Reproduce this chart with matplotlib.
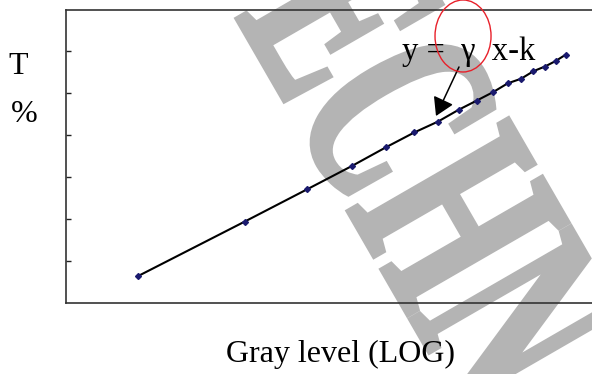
import matplotlib
matplotlib.use("Agg")
import matplotlib.pyplot as plt
from matplotlib.patches import Ellipse, PathPatch
from matplotlib.textpath import TextPath
from matplotlib.font_manager import FontProperties
from matplotlib.transforms import Affine2D

# data
gray_level = [1, 2, 3, 4, 5, 6, 7, 8, 9, 10, 11, 12, 13, 14, 15, 16]
t_percent = [6.4, 19.4, 27.1, 32.6, 37.1, 40.6, 43.2, 46.0, 48.2, 50.2,
             52.3, 53.4, 55.2, 56.3, 57.6, 59.1]
y_ticks = [10, 20, 30, 40, 50, 60]
equation = "y =  \u03b3  x-k"
x_label = "Gray level (LOG)"
y_label_top = "T"
y_label_bottom = "%"
watermark = "ECHN"

W, H, DPI = 592, 374, 100
fig = plt.figure(figsize=(W / DPI, H / DPI), dpi=DPI)
serif = ["Liberation Serif", "DejaVu Serif"]

# condensed, rotated grey watermark behind everything
wm_path = TextPath((0, 0), watermark, size=160,
                   prop=FontProperties(family="Liberation Serif", weight="bold"))
wm_tr = Affine2D().scale(1.0, 1.76).rotate_deg(-60).translate(236, H - 16.5)
wm = PathPatch(wm_path, transform=wm_tr, facecolor="#b4b4b4",
               edgecolor="#b4b4b4", lw=4, joinstyle="miter", zorder=-5)
fig.add_artist(wm)

ax = fig.add_axes([66 / W, 1 - 303 / H, 526 / W, 293 / H])
ax.patch.set_visible(False)
ax.plot(gray_level, t_percent, color="black", lw=1.5, marker="D", markersize=3,
        markerfacecolor="#1a1a6e", markeredgecolor="#1a1a6e", zorder=3)
ax.set_xscale("log")
ax.set_xlim(0.627, 19.0)
ax.set_ylim(0, 69.76)
ax.set_yticks(y_ticks)
ax.set_yticklabels([])
ax.tick_params(axis="y", direction="in", length=3.5, width=1, color="#222222")
ax.set_xticks([])
ax.xaxis.set_minor_locator(matplotlib.ticker.NullLocator())
ax.spines["right"].set_visible(False)
for s in ["left", "top", "bottom"]:
    ax.spines[s].set_color("#333333")
    ax.spines[s].set_linewidth(1.2)

ax.text(0.639, 0.829, equation, transform=ax.transAxes, family=serif,
        fontsize=23.5, ha="left", va="baseline", zorder=4)
ax.annotate("", xy=(0.7034, 0.6382), xycoords="axes fraction",
            xytext=(0.7471, 0.8055), textcoords="axes fraction",
            arrowprops=dict(arrowstyle="-|>,head_length=0.55,head_width=0.33",
                            mutation_scale=20, color="black", lw=1.1,
                            shrinkA=0, shrinkB=0), zorder=4)
ell = Ellipse((0.7548, 0.9113), 0.1065, 0.2457, transform=ax.transAxes,
              fill=False, edgecolor="#e8202a", lw=1.0, clip_on=False, zorder=5)
ax.add_patch(ell)

fig.text(18.5 / W, 1 - 66.5 / H, y_label_top, family=serif, fontsize=23,
         ha="center", va="center")
fig.text(24 / W, 1 - 115 / H, y_label_bottom, family=serif, fontsize=23,
         ha="center", va="center")
fig.text(340 / W, 1 - 354 / H, x_label, family=serif, fontsize=23,
         ha="center", va="center")

fig.savefig("out.png", dpi=DPI)
